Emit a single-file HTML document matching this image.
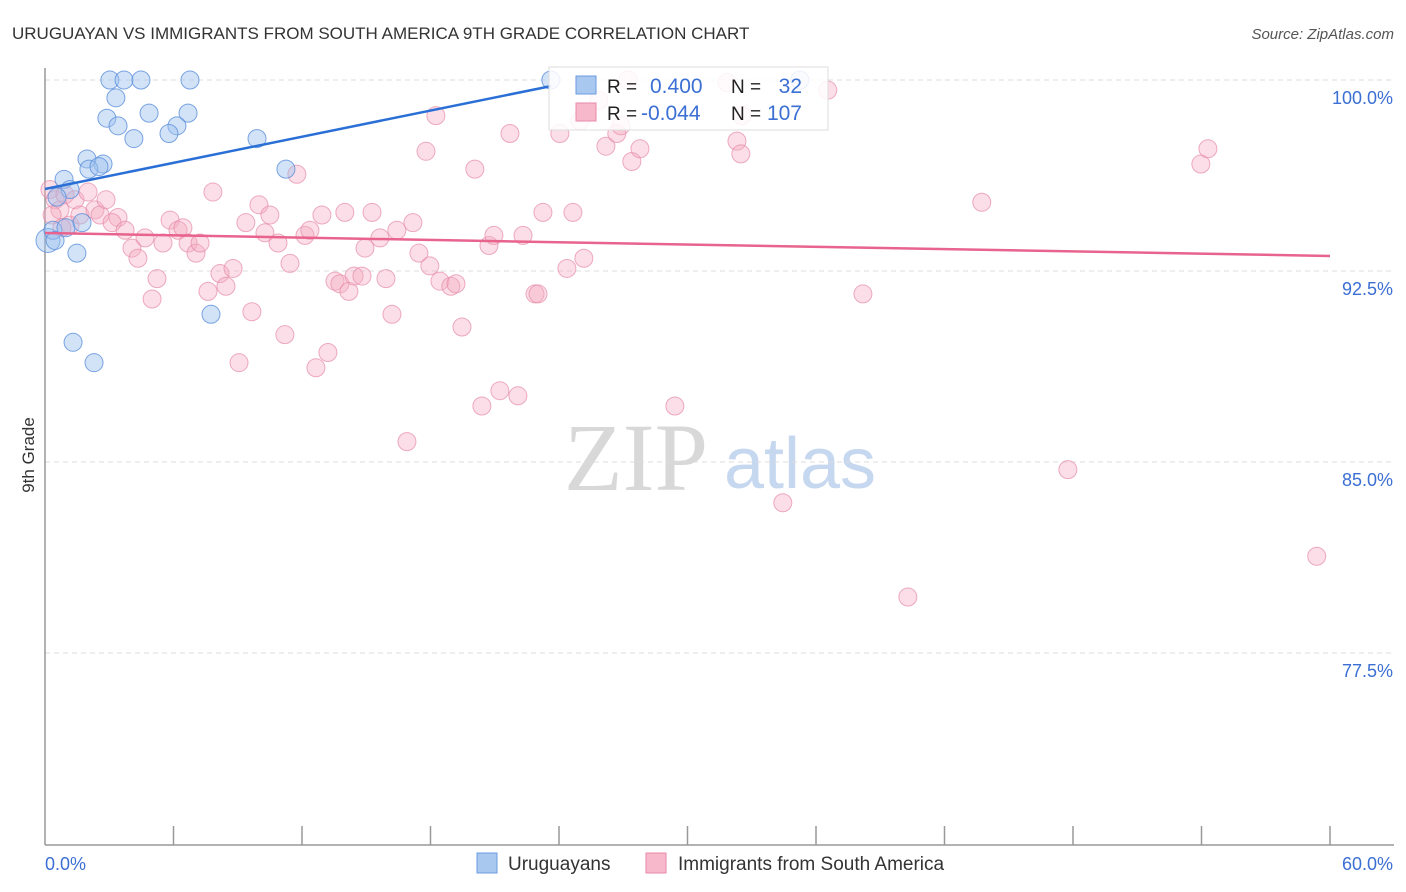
<!DOCTYPE html>
<html><head><meta charset="utf-8"><style>
body{margin:0;background:#fff;font-family:"Liberation Sans",sans-serif;}
svg{display:block}
</style></head><body>
<svg id="chart" width="1406" height="892" xmlns="http://www.w3.org/2000/svg">
<text x="12" y="39" font-size="17" fill="#333">URUGUAYAN VS IMMIGRANTS FROM SOUTH AMERICA 9TH GRADE CORRELATION CHART</text>
<text x="1394" y="39" font-size="15" fill="#555" font-style="italic" text-anchor="end">Source: ZipAtlas.com</text>
<g>
<text x="636" y="490" font-size="96" font-family="Liberation Serif,serif" fill="#d8d8d8" text-anchor="middle">ZIP</text>
<text x="800" y="488" font-size="72" fill="#c6d8f0" text-anchor="middle">atlas</text>
</g>
<g id="grid"></g>
<g id="axes"></g>
<g id="pts"></g>
<g id="lines"></g>
<text transform="translate(34,455) rotate(-90)" font-size="17" fill="#333" text-anchor="middle">9th Grade</text>
<text x="45" y="870" font-size="18" fill="#3b6fd4">0.0%</text>
<text x="1393" y="870" font-size="18" fill="#3b6fd4" text-anchor="end">60.0%</text>
<g>
<rect x="549" y="67" width="279" height="63" fill="#fff" fill-opacity="0.85" stroke="#ddd"/>
<rect x="576" y="76" width="20" height="18" fill="#a9c8f0" stroke="#6a9be0"/>
<rect x="576" y="103" width="20" height="18" fill="#f8b8cb" stroke="#e88aa8"/>
<text x="607" y="93" font-size="19" fill="#222">R =</text>
<text x="650" y="93" font-size="21" fill="#3b6fd4">0.400</text>
<text x="731" y="93" font-size="19" fill="#222">N =</text>
<text x="802" y="93" font-size="21" fill="#3b6fd4" text-anchor="end">32</text>
<text x="607" y="120" font-size="19" fill="#222">R =</text>
<text x="641" y="120" font-size="21" fill="#3b6fd4">-0.044</text>
<text x="731" y="120" font-size="19" fill="#222">N =</text>
<text x="802" y="120" font-size="21" fill="#3b6fd4" text-anchor="end">107</text>
</g>
<g>
<rect x="477" y="853" width="20" height="20" fill="#a9c8f0" stroke="#6a9be0"/>
<text x="508" y="870" font-size="19" fill="#333">Uruguayans</text>
<rect x="646" y="853" width="20" height="20" fill="#f8b8cb" stroke="#e88aa8"/>
<text x="678" y="870" font-size="19" fill="#333">Immigrants from South America</text>
</g>
</svg>
<script>
const yTicks=[100,92.5,85,77.5];
const yTickLabels=["100.0%","92.5%","85.0%","77.5%"];
const blueX=[3.03,3.69,4.48,6.77,23.62,35.25,3.31,2.89,4.86,6.68,3.41,6.16,5.79,4.15,9.90,1.96,2.71,2.05,2.52,11.25,0.89,1.17,0.56,0.14,0.37,0.47,0.98,1.73,1.49,7.75,1.31,2.29];
const blueY=[100,100,100,100,100,100,99.3,98.5,98.7,98.7,98.2,98.2,97.9,97.7,97.7,96.9,96.7,96.5,96.6,96.5,96.1,95.7,95.4,93.7,94.1,93.7,94.2,94.4,93.2,90.8,89.7,88.9];
const pinkX=[0.23,0.47,0.70,0.33,0.93,1.40,2.01,1.17,1.63,2.33,2.57,2.85,3.41,3.13,3.74,4.06,4.34,4.67,5.00,5.23,5.51,5.84,6.21,6.44,6.68,7.05,7.24,7.61,7.84,8.17,8.45,8.78,9.06,9.38,9.66,9.99,10.27,10.50,10.88,11.20,11.44,11.76,12.14,12.37,12.65,12.93,13.21,13.54,13.77,14.00,14.19,14.43,14.80,14.94,15.27,15.64,15.92,16.20,16.43,16.90,17.18,17.46,17.79,17.97,18.25,18.44,18.95,19.19,19.47,20.07,20.40,20.73,20.96,21.24,21.71,22.08,22.32,22.88,23.02,23.25,24.04,24.37,24.65,24.98,25.16,25.86,26.19,26.70,26.89,27.22,27.40,27.78,29.41,31.84,32.31,32.49,32.54,34.45,36.55,38.19,40.29,43.74,47.76,53.97,54.30,59.38,0.79];
const pinkY=[95.7,95.3,94.9,94.7,95.5,95.3,95.6,94.3,94.7,94.9,94.7,95.3,94.6,94.4,94.1,93.4,93.0,93.8,91.4,92.2,93.6,94.5,94.1,94.2,93.6,93.2,93.6,91.7,95.6,92.4,91.9,92.6,88.9,94.4,90.9,95.1,94.0,94.7,93.6,90.0,92.8,96.3,93.9,94.1,88.7,94.7,89.3,92.1,92.0,94.8,91.7,92.3,92.3,93.4,94.8,93.8,92.2,90.8,94.1,85.8,94.4,93.2,97.2,92.7,98.6,92.1,91.9,92.0,90.3,96.5,87.2,93.5,93.9,87.8,97.9,87.6,93.9,91.6,91.6,94.8,97.9,92.6,94.8,98.4,93.0,99.2,97.4,97.9,98.2,100,96.8,97.3,87.2,99.9,97.6,97.1,98.6,83.4,99.6,91.6,79.7,95.2,84.7,96.7,97.3,81.3,94.2];
const blueTrend=[[0,95.72],[23.62,99.76]];
const pinkTrend=[[0,93.99],[60,93.09]];
const X0=45,X1=1330,Y0=80,Y1=844;
const sx=v=>X0+(v/60)*(X1-X0);
const sy=v=>Y0+(100-v)/30*(Y1-Y0);
const NS="http://www.w3.org/2000/svg";
function mk(t,p,a){const e=document.createElementNS(NS,t);for(const k in a)e.setAttribute(k,a[k]);p.appendChild(e);return e;}
const grid=document.getElementById('grid');
yTicks.forEach((t,i)=>{
 const l=mk('line',grid,{x1:X0,x2:1394,y1:sy(t),y2:sy(t),stroke:'#ddd','stroke-dasharray':'5,4'});
 
 
 const tx=mk('text',grid,{x:1393,y:sy(t)+24,'font-size':18,fill:'#3b6fd4','text-anchor':'end'});
 tx.textContent=yTickLabels[i];
 
 
});
const ax=document.getElementById('axes');
const ya=mk('line',ax,{x1:X0,x2:X0,y1:68,y2:Y1+1,stroke:'#999','stroke-width':1.5});


const xa=mk('line',ax,{x1:X0,x2:1394,y1:Y1+1,y2:Y1+1,stroke:'#999','stroke-width':1.5});


for(let k=1;k<=10;k++){
 const t=mk('line',ax,{x1:sx(k*6),x2:sx(k*6),y1:826,y2:Y1+1,stroke:'#999','stroke-width':1.5});
 
 
}
const pts=document.getElementById('pts');
pinkX.forEach((x,i)=>{
 const c=mk('circle',pts,{cx:sx(x),cy:sy(pinkY[i]),r:9,fill:'#f6adc3','fill-opacity':0.4,stroke:'#e58aa8','stroke-opacity':0.7});
 
 
});
blueX.forEach((x,i)=>{
 const c=mk('circle',pts,{cx:sx(x),cy:sy(blueY[i]),r:i==23?12:9,fill:'#9dc0ee','fill-opacity':0.45,stroke:'#5b8fdc','stroke-opacity':0.8});
 
 
});
const ln=document.getElementById('lines');
const bl=mk('line',ln,{x1:sx(blueTrend[0][0]),y1:sy(blueTrend[0][1]),x2:sx(blueTrend[1][0]),y2:sy(blueTrend[1][1]),stroke:'#2a6fd6','stroke-width':2.5});


const pl=mk('line',ln,{x1:sx(pinkTrend[0][0]),y1:sy(pinkTrend[0][1]),x2:sx(pinkTrend[1][0]),y2:sy(pinkTrend[1][1]),stroke:'#e8638e','stroke-width':2.5});


</script>
</body></html>
